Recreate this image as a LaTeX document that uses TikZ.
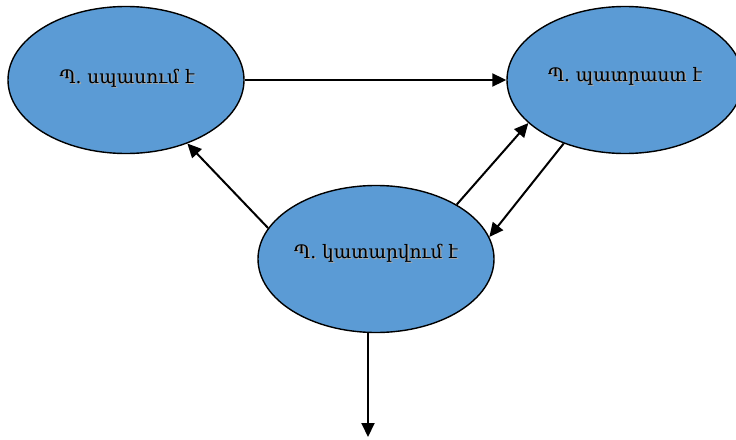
\documentclass[tikz,border=0pt]{standalone}
\usepackage{fontspec}
\newfontfamily\armfont[Script=Armenian]{DejaVu Serif}
\usetikzlibrary{shapes.geometric,arrows.meta}
\definecolor{stateblue}{HTML}{5B9BD5}
\tikzset{
  state/.style={ellipse, draw=black, line width=1.4pt, fill=stateblue,
    minimum width=236pt, minimum height=147pt, inner sep=0pt},
  label/.style={font=\armfont\fontsize{18.5}{21}\selectfont, text=black},
  shade/.style={font=\armfont\fontsize{18.5}{21}\selectfont, text=black!35},
  flow/.style={line width=2pt, -{Triangle[length=14pt,width=13pt]}}
}
\begin{document}
\begin{tikzpicture}[x=1pt,y=-1pt]
  \useasboundingbox (0,0) rectangle (736,439);
  \begin{scope}
    \clip (0,0) rectangle (736,439);
    \node[state] (wait)  at (126,80)  {};
    \node[state] (ready) at (625,80)  {};
    \node[state] (run)   at (376,259) {};
  \end{scope}
  % text with a soft drop shadow
  \node[shade] at (128.4,79.4) {Պ. սպասում է};
  \node[label] (twait) at (127,78) {Պ. սպասում է};
  \node[shade] at (626.4,77.4) {Պ. պատրաստ է};
  \node[label] (tready) at (625,76) {Պ. պատրաստ է};
  \node[shade] at (377.4,254.4) {Պ. կատարվում է};
  \node[label] (trun) at (376,253) {Պ. կատարվում է};
  % transitions
  \coordinate (out) at (368,437);
  \draw[flow] (wait.east) -- (ready.west);
  \draw[flow] (run.164) -- (wait.-46);
  \draw[flow] (run.34) -- (ready.-156);
  \draw[flow] (ready.-134) -- (run.11);
  \draw[flow] (run.south -| out) -- (out);
\end{tikzpicture}
\end{document}
